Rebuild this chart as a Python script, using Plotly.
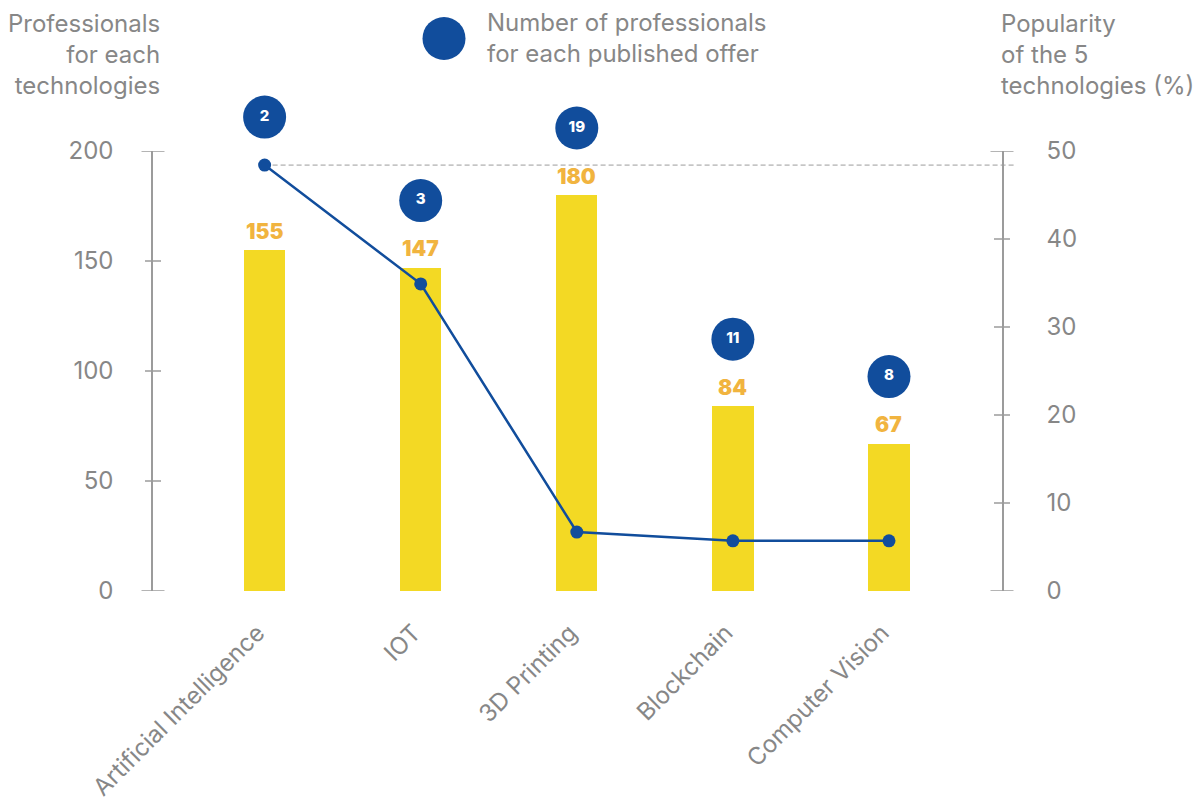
import plotly.graph_objects as go

# ---- data ----
technologies = ["Artificial Intelligence", "IOT", "3D Printing", "Blockchain", "Computer Vision"]
professionals = [155, 147, 180, 84, 67]              # professionals for each technology
popularity_pct = [48.4, 34.9, 6.7, 5.7, 5.7]         # popularity of the 5 technologies (%)
per_offer = [2, 3, 19, 11, 8]                        # professionals for each published offer

left_ticks = [0, 50, 100, 150, 200]
right_ticks = [0, 10, 20, 30, 40, 50]

# ---- style ----
W, H = 1202, 802
ML, MR, MT, MB = 153, 200, 60, 211
PW, PH = W - ML - MR, H - MT - MB          # full paper area (includes bubble band)
AXIS_TOP = 151                              # pixel row where the value axes end
AX_H = H - MB - AXIS_TOP
Y1_MAX, Y2_MAX = 200, 50
X_MIN, X_MAX = -0.715, 4.724

YELLOW = "#F3D924"
ORANGE = "#F1B43F"
BLUE = "#114D9C"
GREY_TXT = "#878787"
GREY_LN = "#9B9B9B"
FONT = "Inter, 'Open Sans', sans-serif"

px_per_unit = AX_H / Y1_MAX
axis_dom_top = AX_H / PH
x_idx = list(range(len(technologies)))


def px_x(px):
    """Horizontal pixel -> paper coordinate."""
    return (px - ML) / PW


def px_y(py):
    """Vertical pixel (from top) -> paper coordinate."""
    return (H - MB - py) / PH


fig = go.Figure()

# yellow bars
fig.add_trace(go.Bar(
    x=x_idx, y=professionals, width=0.265,
    marker=dict(color=YELLOW, line=dict(width=0)),
    hoverinfo="skip", showlegend=False,
))

# popularity line on the right axis
fig.add_trace(go.Scatter(
    x=x_idx, y=popularity_pct, yaxis="y2",
    mode="lines+markers",
    line=dict(color=BLUE, width=2.5),
    marker=dict(color=BLUE, size=13),
    hoverinfo="skip", showlegend=False, cliponaxis=False,
))

# blue bubbles: placed above whichever is higher, the bar label or the line point.
# They live on a taller helper axis sharing the same unit scale as the left axis.
label_gap = 19 / px_per_unit
bubble_gap = 48 / px_per_unit
bubble_y = [
    max(v + label_gap, p * Y1_MAX / Y2_MAX) + bubble_gap
    for v, p in zip(professionals, popularity_pct)
]
fig.add_trace(go.Scatter(
    x=x_idx, y=bubble_y, yaxis="y3", mode="markers+text",
    marker=dict(color=BLUE, size=43, line=dict(width=0)),
    text=[str(v) for v in per_offer], textposition="middle center",
    textfont=dict(color="white", size=15, family=FONT, weight=800),
    hoverinfo="skip", showlegend=False, cliponaxis=False,
))

annotations = []
shapes = []

# bar value labels
for i, v in zip(x_idx, professionals):
    annotations.append(dict(
        x=i, y=v, xref="x", yref="y", yshift=19, yanchor="middle",
        text=str(v), showarrow=False,
        font=dict(color=ORANGE, size=21, family=FONT, weight=900),
    ))

# dashed reference line at the top popularity value
ai_px = ML + (0 - X_MIN) / (X_MAX - X_MIN) * PW
shapes.append(dict(
    type="line", xref="paper", yref="y2",
    x0=px_x(ai_px), x1=px_x(ML + PW + 13),
    y0=popularity_pct[0], y1=popularity_pct[0],
    line=dict(color=GREY_LN, width=1, dash="5px,3px"), layer="below",
))

# crossing tick marks on both vertical axes
for t in left_ticks:
    half = 11.5 if t in (left_ticks[0], left_ticks[-1]) else 8
    shapes.append(dict(type="line", xref="paper", yref="y",
                       x0=px_x(ML - half), x1=px_x(ML + half), y0=t, y1=t,
                       line=dict(color=GREY_LN, width=1.5)))
for t in right_ticks:
    half = 11.5 if t in (right_ticks[0], right_ticks[-1]) else 8
    shapes.append(dict(type="line", xref="paper", yref="y2",
                       x0=px_x(ML + PW - half), x1=px_x(ML + PW + half), y0=t, y1=t,
                       line=dict(color=GREY_LN, width=1.5)))

# axis titles
annotations.append(dict(
    xref="paper", yref="paper", x=px_x(162), y=px_y(55),
    xanchor="right", yanchor="middle", align="right", showarrow=False,
    text="Professionals<br>for each<br>technologies",
    font=dict(color=GREY_TXT, size=24, family=FONT),
))
annotations.append(dict(
    xref="paper", yref="paper", x=px_x(999), y=px_y(55),
    xanchor="left", yanchor="middle", align="left", showarrow=False,
    text="Popularity<br>of the 5<br>technologies (%)",
    font=dict(color=GREY_TXT, size=24, family=FONT),
))

# legend for the bubbles
shapes.append(dict(
    type="circle", xref="paper", yref="paper",
    x0=px_x(444 - 21.5), x1=px_x(444 + 21.5),
    y0=px_y(38.5 + 21.5), y1=px_y(38.5 - 21.5),
    fillcolor=BLUE, line=dict(width=0),
))
annotations.append(dict(
    xref="paper", yref="paper", x=px_x(485), y=px_y(38.5),
    xanchor="left", yanchor="middle", align="left", showarrow=False,
    text="Number of professionals<br>for each published offer",
    font=dict(color=GREY_TXT, size=24, family=FONT),
))

fig.update_layout(
    width=W, height=H,
    margin=dict(l=ML, r=MR, t=MT, b=MB, pad=0),
    paper_bgcolor="white", plot_bgcolor="rgba(0,0,0,0)",
    font=dict(family=FONT, color=GREY_TXT),
    bargap=0,
    xaxis=dict(
        range=[X_MIN, X_MAX], tickvals=x_idx, ticktext=technologies,
        tickangle=-45, showgrid=False, zeroline=False, showline=False,
        ticks="", anchor="y", ticklabelstandoff=22, ticklabelshift=-7,
        automargin=False,
        tickfont=dict(size=24, color=GREY_TXT, family=FONT),
    ),
    yaxis=dict(
        domain=[0, axis_dom_top],
        range=[0, Y1_MAX], tickvals=left_ticks, showgrid=False, zeroline=False,
        showline=True, linecolor=GREY_LN, linewidth=1.5, ticks="",
        ticklabelstandoff=33, automargin=False,
        tickfont=dict(size=24, color=GREY_TXT, family=FONT),
    ),
    yaxis2=dict(
        range=[0, Y2_MAX], tickvals=right_ticks, overlaying="y", side="right",
        showgrid=False, zeroline=False, showline=True, linecolor=GREY_LN,
        linewidth=1.5, ticks="", ticklabelstandoff=38, automargin=False,
        tickfont=dict(size=24, color=GREY_TXT, family=FONT),
    ),
    yaxis3=dict(
        domain=[0, 1], anchor="x", range=[0, PH / px_per_unit],
        visible=False, showgrid=False, zeroline=False, automargin=False,
    ),
    shapes=shapes,
    annotations=annotations,
    showlegend=False,
)

fig.write_html("out.html")
